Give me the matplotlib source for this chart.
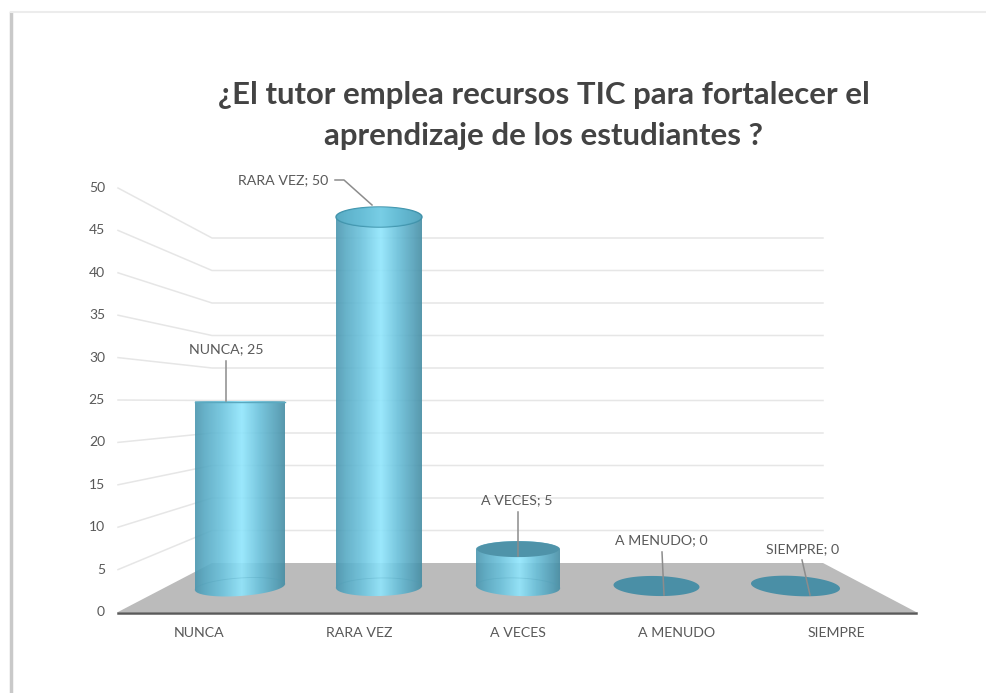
import numpy as np
import matplotlib
matplotlib.use('Agg')
import matplotlib.pyplot as plt
from matplotlib.colors import LinearSegmentedColormap
from matplotlib.patches import Polygon, PathPatch
from matplotlib.path import Path

plt.rcParams['font.family'] = ['Lato', 'DejaVu Sans']

# datos
categorias = ['NUNCA', 'RARA VEZ', 'A VECES', 'A MENUDO', 'SIEMPRE']
valores = [25, 50, 5, 0, 0]
ticks = [0, 5, 10, 15, 20, 25, 30, 35, 40, 45, 50]
titulo = ['¿El tutor emplea recursos TIC para fortalecer el',
          'aprendizaje de los estudiantes ?']

# geometria del falso 3D, en pixeles de la imagen
centros = [240, 379, 518, 656.5, 795.5]
anchos = [45, 43, 42, 43, 44.5]
ry_top = [0.5, 10, 8, 10, 10]
inclina = [-3, -1, 1.5, 1, 2.5]
x_cat = [199, 359, 518, 677, 836]
pos_etq = [(226, 349), (283, 180), (517, 500), (661, 540), (803, 549)]
guia = [[(226, 361), (226, 401)],
        [(335, 180), (344, 180), (372, 205)],
        [(518, 512), (518, 556)],
        [(662, 552), (664, 595)],
        [(802, 560), (810, 595)]]


# escalas: pared frontal, pared del fondo y cilindros
def y_frente(v):
    return 612 - 8.48 * v


def y_fondo(v):
    return 563 - 6.5 * v


def y_barra(v):
    return 586 - 7.38 * v


def elipse(c, cy, hw, ry, tilt, t):
    return c + hw * np.cos(t), cy + ry * np.sin(t) + tilt * np.cos(t)


fig = plt.figure(figsize=(9.86, 6.93), dpi=100)
ax = fig.add_axes([0, 0, 1, 1])
ax.axis('off')

# marco de la captura
ax.plot([11, 11], [13, 693], color='#c9c9c9', lw=2.5, zorder=1)
ax.plot([11, 986], [12, 12], color='#ececec', lw=1.5, zorder=1)

# rejilla
for t in ticks[1:]:
    ax.plot([118, 212, 823], [y_frente(t), y_fondo(t), y_fondo(t)],
            color='#e6e6e6', lw=1.1, zorder=2)

# suelo
ax.add_patch(Polygon([(118, 612), (212, y_fondo(0)), (823, y_fondo(0)), (916, 612)],
                     closed=True, fc='#bbbbbb', ec='none', zorder=3))
ax.plot([118, 916], [612.5, 612.5], color='#5a5a5a', lw=1.8, zorder=4)

cmap = LinearSegmentedColormap.from_list('cil', [
    (0, '#4a96af'), (0.12, '#58abc5'), (0.3, '#6cc3dd'), (0.52, '#90e6fd'),
    (0.72, '#69c0da'), (0.92, '#4f9cb5'), (1, '#458da3')])
grad = np.linspace(0, 1, 256).reshape(1, -1)

for i, v in enumerate(valores):
    c, hw, ry, tilt = centros[i], anchos[i], ry_top[i], inclina[i]
    cy_base = 587
    top = y_barra(v)
    t = np.linspace(0, 2 * np.pi, 120)

    if v == 0:
        xe, ye = elipse(c, 586, hw, ry, tilt, t)
        ax.fill(xe, ye, color='#4a8fa6', lw=0, zorder=6)
        continue

    xb, yb = elipse(c, cy_base, hw, 9, tilt, np.linspace(0, np.pi, 60))
    xt, yt = elipse(c, top, hw, ry, 0, np.linspace(np.pi, 2 * np.pi, 60))
    pts = np.column_stack([np.r_[xb, xt], np.r_[yb, yt]])
    cod = [Path.MOVETO] + [Path.LINETO] * (len(pts) - 1)
    clip = PathPatch(Path(pts, cod), fc='none', ec='none', transform=ax.transData)
    ax.add_patch(clip)
    im = ax.imshow(grad, cmap=cmap, extent=[c - hw, c + hw, 600, top - 12],
                   aspect='auto', alpha=0.9, zorder=5, interpolation='bilinear')
    im.set_clip_path(clip)

    # borde interior de la base
    xi, yi = elipse(c, cy_base, hw, 9, tilt, np.linspace(np.pi, 2 * np.pi, 60))
    ax.plot(xi, yi, color='#4d9db5', lw=0.6, alpha=0.3, zorder=6)

    # tapa
    if v == 5:
        xe, ye = elipse(c, top, hw - 1, ry, 0, t)
        ax.fill(xe, ye, color='#4f93a9', lw=0, zorder=6)
    elif ry > 1:
        xe, ye = elipse(c, top, hw, ry, 0, t)
        tapa = ax.fill(xe, ye, fc='#66bbd3', ec='#3f93ab', lw=1.0, zorder=6)[0]
        im2 = ax.imshow(grad, cmap=cmap, extent=[c - hw, c + hw, top + ry, top - ry],
                        aspect='auto', alpha=0.45, zorder=7)
        im2.set_clip_path(tapa)
    else:
        ax.plot([c - hw, c + hw], [top, top], color='#5aa9c0', lw=1.0, zorder=6)

ax.set_xlim(0, 986)
ax.set_ylim(693, 0)

# lineas guia y etiquetas de datos
for i, g in enumerate(guia):
    gx, gy = zip(*g)
    ax.plot(gx, gy, color='#8c8c8c', lw=1.1, zorder=8)
    ax.text(pos_etq[i][0], pos_etq[i][1], f'{categorias[i]}; {valores[i]}', ha='center',
            va='center', fontsize=10.2, color='#595959', zorder=9)

# ejes
for t in ticks:
    ax.text(105, y_frente(t), str(t), ha='right', va='center', fontsize=10, color='#595959')
for x, cat in zip(x_cat, categorias):
    ax.text(x, 633, cat, ha='center', va='center', fontsize=10.2, color='#595959')

# titulo
ax.text(544, 95, titulo[0], ha='center', va='center', fontsize=22.4, fontweight='bold', color='#434343')
ax.text(544, 136, titulo[1], ha='center', va='center', fontsize=22.4, fontweight='bold', color='#434343')

plt.savefig('out.png', dpi=100)
